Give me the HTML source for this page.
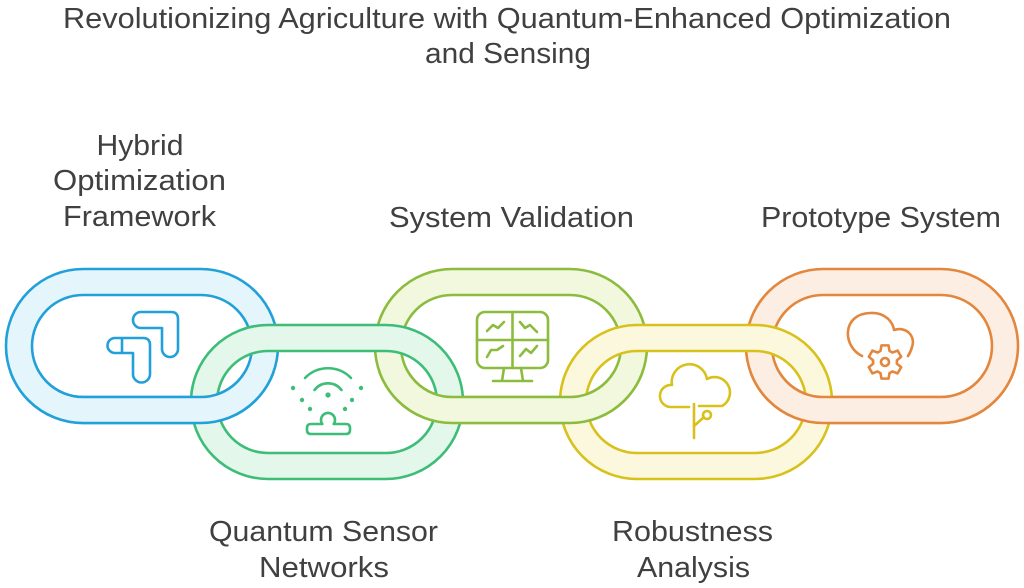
<!DOCTYPE html>
<html>
<head>
<meta charset="utf-8">
<style>
html,body{margin:0;padding:0;background:#ffffff;}
svg{display:block;}
text{font-family:"Liberation Sans",Arial,sans-serif;fill:#404040;font-size:29px;}
</style>
</head>
<body>
<svg width="1024" height="588" viewBox="0 0 1024 588" xmlns="http://www.w3.org/2000/svg">
<defs>
  <path id="L1" fill-rule="evenodd" d="M83,269 H201 A77 77 0 0 1 201,423 H83 A77 77 0 0 1 83,269 Z M83,295 H201 A51 51 0 0 1 201,397 H83 A51 51 0 0 1 83,295 Z"/>
  <path id="L2" fill-rule="evenodd" d="M268,325 H386 A77 77 0 0 1 386,479 H268 A77 77 0 0 1 268,325 Z M268,351 H386 A51 51 0 0 1 386,453 H268 A51 51 0 0 1 268,351 Z"/>
  <path id="L3" fill-rule="evenodd" d="M452,269 H570 A77 77 0 0 1 570,423 H452 A77 77 0 0 1 452,269 Z M452,295 H570 A51 51 0 0 1 570,397 H452 A51 51 0 0 1 452,295 Z"/>
  <path id="L4" fill-rule="evenodd" d="M637,325 H755 A77 77 0 0 1 755,479 H637 A77 77 0 0 1 637,325 Z M637,351 H755 A51 51 0 0 1 755,453 H637 A51 51 0 0 1 637,351 Z"/>
  <path id="L5" fill-rule="evenodd" d="M823,269 H941 A77 77 0 0 1 941,423 H823 A77 77 0 0 1 823,269 Z M823,295 H941 A51 51 0 0 1 941,397 H823 A51 51 0 0 1 823,295 Z"/>
  <clipPath id="bot"><rect x="0" y="372" width="1024" height="216"/></clipPath>
</defs>

<!-- Title -->
<text x="507" y="28" text-anchor="middle" textLength="888" lengthAdjust="spacingAndGlyphs">Revolutionizing Agriculture with Quantum-Enhanced Optimization</text>
<text x="508" y="63" text-anchor="middle" textLength="166" lengthAdjust="spacingAndGlyphs">and Sensing</text>

<!-- Labels -->
<text x="140" y="155" text-anchor="middle" textLength="87" lengthAdjust="spacingAndGlyphs">Hybrid</text>
<text x="139.5" y="190" text-anchor="middle" textLength="173" lengthAdjust="spacingAndGlyphs">Optimization</text>
<text x="139.5" y="226" text-anchor="middle" textLength="153" lengthAdjust="spacingAndGlyphs">Framework</text>
<text x="511.5" y="227" text-anchor="middle" textLength="245" lengthAdjust="spacingAndGlyphs">System Validation</text>
<text x="881" y="227" text-anchor="middle" textLength="240" lengthAdjust="spacingAndGlyphs">Prototype System</text>
<text x="323.5" y="541" text-anchor="middle" textLength="229" lengthAdjust="spacingAndGlyphs">Quantum Sensor</text>
<text x="324" y="577" text-anchor="middle" textLength="130" lengthAdjust="spacingAndGlyphs">Networks</text>
<text x="692.5" y="541" text-anchor="middle" textLength="161" lengthAdjust="spacingAndGlyphs">Robustness</text>
<text x="693.5" y="577" text-anchor="middle" textLength="113" lengthAdjust="spacingAndGlyphs">Analysis</text>

<!-- Odd links -->
<use href="#L1" fill="#e5f5fc" stroke="#22a0da" stroke-width="2.6"/>
<use href="#L3" fill="#f1f8de" stroke="#8cbc3e" stroke-width="2.6"/>
<use href="#L5" fill="#fdeee3" stroke="#e2873d" stroke-width="2.6"/>
<!-- Even links -->
<use href="#L2" fill="#e3f7eb" stroke="#3dbd78" stroke-width="2.6"/>
<use href="#L4" fill="#fcf8dd" stroke="#d8c11c" stroke-width="2.6"/>
<!-- Odd links bottom part over -->
<g clip-path="url(#bot)">
  <use href="#L1" fill="#e5f5fc" stroke="#22a0da" stroke-width="2.6"/>
  <use href="#L3" fill="#f1f8de" stroke="#8cbc3e" stroke-width="2.6"/>
  <use href="#L5" fill="#fdeee3" stroke="#e2873d" stroke-width="2.6"/>
</g>

<!-- Icon 1: blue -->
<g fill="none" stroke="#22a0da" stroke-width="2.6" stroke-linejoin="round" stroke-linecap="round">
  <path d="M141,312 H171 Q178,312 178,319 V349 A8 8 0 0 1 162,349 V328 H141 A8 8 0 0 1 141,312 Z"/>
  <path d="M115,338 H143 Q150,338 150,345 V374 A8.5 8.5 0 0 1 133,374 V353 H115 A7.5 7.5 0 0 1 115,338 Z"/>
  <path d="M122,338.5 V352.5"/>
</g>

<!-- Icon 2: sensor -->
<g fill="none" stroke="#3dbd78" stroke-width="2.6" stroke-linecap="round" stroke-linejoin="round">
  <path d="M305,378 A32 32 0 0 1 351,378"/>
  <path d="M314.5,390 A17 17 0 0 1 341.5,390"/>
  <path d="M322.3,424 A7 7 0 1 1 333.7,424"/>
  <path d="M321,424 H311 Q307,424 307,428 V430 Q307,434 311,434 H346 Q350,434 350,430 V428 Q350,424 346,424 H335"/>
</g>
<g fill="#3dbd78">
  <circle cx="328" cy="395" r="2.6"/>
  <circle cx="293" cy="388" r="2.2"/>
  <circle cx="302" cy="400" r="2.2"/>
  <circle cx="310" cy="409" r="2.2"/>
  <circle cx="361" cy="388" r="2.2"/>
  <circle cx="352" cy="400" r="2.2"/>
  <circle cx="345" cy="409" r="2.2"/>
</g>

<!-- Icon 3: monitor -->
<g fill="none" stroke="#8cbc3e" stroke-width="2.6" stroke-linecap="round" stroke-linejoin="round">
  <rect x="477" y="312" width="71" height="56" rx="8"/>
  <path d="M512.5,312 V368 M477,340 H548"/>
  <path d="M504,368 L502,381 M521,368 L523,381 M493,381 H532"/>
  <path d="M487,331 L493,325 L498,328 L504,322"/>
  <path d="M520,322 L525,328 L530,325 L537,332"/>
  <path d="M487,357 L491,350 L497,350 L503,346"/>
  <path d="M520,356 L526,349 L531,353 L537,346"/>
</g>

<!-- Icon 4: tree -->
<g fill="none" stroke="#d8c11c" stroke-width="2.6" stroke-linecap="round" stroke-linejoin="round">
  <path d="M689,407 H670 A11 11 0 0 1 672,385 A16 16 0 0 1 707,379 A13 13 0 0 1 722,406 H699"/>
  <path d="M694,404 V438"/>
  <path d="M694,426 L703,418"/>
  <circle cx="707" cy="415" r="4"/>
</g>

<!-- Icon 5: cloud + gear -->
<g fill="none" stroke="#e2873d" stroke-width="2.6" stroke-linecap="round" stroke-linejoin="round">
  <path d="M862,356 C842,346 842,314 870,313 C885,312 893,322 894,330 C906,326 916,336 912,347 C911,351 910,353 908,356"/>
  <path d="M880.5,350.87 L881.47,345.37 L888.53,345.37 L889.5,350.87 L892.39,352.54 L897.63,350.63 L901.17,356.75 L896.88,360.33 L896.88,363.67 L901.17,367.25 L897.63,373.37 L892.39,371.46 L889.5,373.13 L888.53,378.63 L881.47,378.63 L880.5,373.13 L877.61,371.46 L872.37,373.37 L868.83,367.25 L873.12,363.67 L873.12,360.33 L868.83,356.75 L872.37,350.63 L877.61,352.54 Z"/>
  <circle cx="885" cy="362" r="4"/>
</g>
</svg>
</body>
</html>
